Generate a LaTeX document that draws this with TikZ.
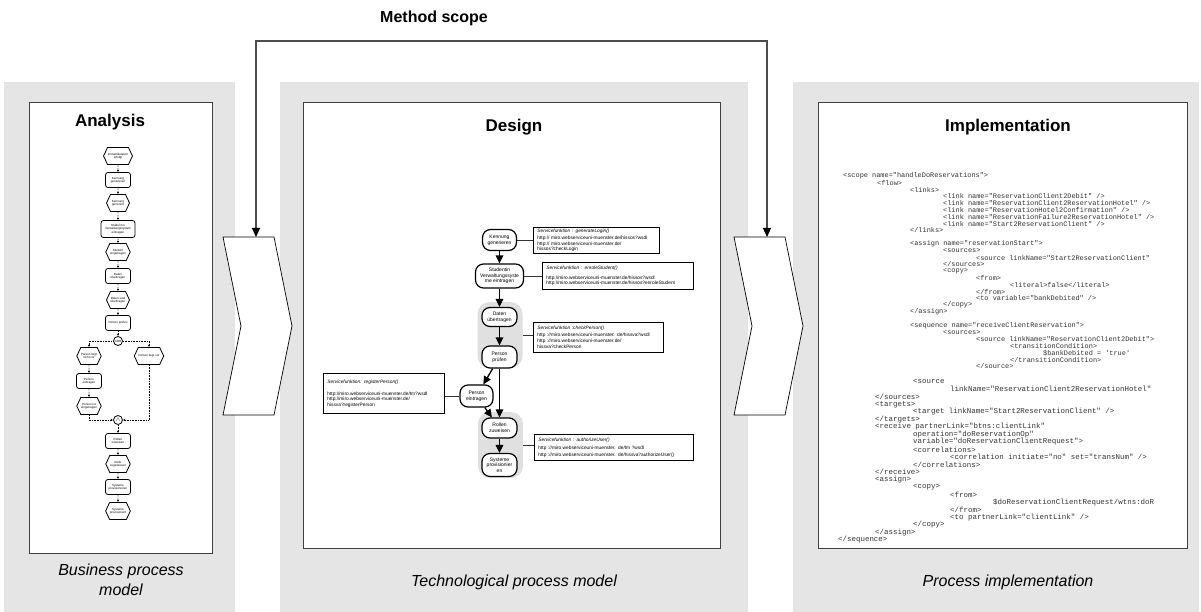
\documentclass[tikz,border=0pt]{standalone}
\usepackage{fontspec}
\setmainfont{Liberation Sans}
\setmonofont{Liberation Mono}
\usetikzlibrary{arrows.meta,shapes.symbols}
\tikzset{
  bgpanel/.style={fill=black!10},
  sheet/.style={fill=white, draw=black!75, line width=1pt},
  paneltitle/.style={font=\bfseries\fontsize{17}{20}\selectfont},
  panelcaption/.style={font=\itshape\fontsize{16}{20}\selectfont, align=center},
  chevron/.style={fill=white, draw=black, line width=0.7pt},
  scopearrow/.style={draw=black!70, line width=1.2pt,
    {Triangle[length=9pt,width=8pt,color=black]}-{Triangle[length=9pt,width=8pt,color=black]}},
  epcfn/.style={draw, line width=0.8pt, rounded corners=2.5pt, fill=white, minimum width=25pt,
    minimum height=15pt, inner sep=0.5pt, align=center, font=\fontsize{3}{3.4}\selectfont},
  epcev/.style={signal, signal to=east and west, signal pointer angle=130, draw, line width=0.8pt,
    fill=white, minimum width=23pt, minimum height=17pt, inner sep=0.3pt, align=center,
    font=\fontsize{3}{3.4}\selectfont},
  epcop/.style={circle, draw, line width=0.8pt, fill=white, minimum size=9pt, inner sep=0pt,
    font=\fontsize{3}{3}\selectfont},
  epcflow/.style={densely dotted, line width=0.6pt, -{Latex[length=2.2pt,width=2.2pt]}},
  task/.style={draw, line width=1.2pt, rounded corners=8pt, fill=white, align=center, inner sep=1pt,
    font=\fontsize{5}{5.6}\selectfont},
  taskgroup/.style={fill=black!12, rounded corners=12pt, minimum width=45pt, minimum height=66pt},
  svcbox/.style={draw, line width=0.9pt, fill=white, anchor=north west, align=left, inner xsep=4pt,
    inner ysep=2pt, font=\fontsize{4.8}{5.3}\selectfont},
  svclink/.style={draw=black!80, line width=0.8pt},
  flowarrow/.style={line width=1.3pt, -{Triangle[length=8pt,width=7.5pt]}},
  codeA/.style={anchor=west, inner sep=0pt, text=black!80, font=\fontsize{6.9}{7}\ttfamily},
  codeB/.style={anchor=west, inner sep=0pt, text=black!80, font=\fontsize{7.45}{7.5}\ttfamily},
}
\begin{document}
\begin{tikzpicture}[x=1pt,y=-1pt]
\useasboundingbox (0,0) rectangle (1201,612);

% background columns and sheets
\fill[bgpanel] (4,82) rectangle (235,612);
\fill[bgpanel] (280,82) rectangle (748,612);
\fill[bgpanel] (793,82) rectangle (1199,612);
\draw[sheet] (29,103) rectangle (212,553);
\draw[sheet] (303,103) rectangle (720,548);
\draw[sheet] (818,103) rectangle (1187,548);

% phase chevrons
\draw[chevron] (223,237) -- (274,237) -- (292,326) -- (274,415) -- (223,415) -- (241,326) -- cycle;
\draw[chevron] (734,237) -- (785,237) -- (803,326) -- (785,415) -- (734,415) -- (752,326) -- cycle;

% method scope bracket
\node[font=\bfseries\fontsize{16}{19}\selectfont] (scopelabel) at (434,18) {Method scope};
\coordinate (cL) at (256,237);
\coordinate (cR) at (767,237);
\coordinate (sL) at (256,41);
\coordinate (sR) at (767,41);
\draw[scopearrow] (cL) -- (sL) -- (sR) -- (cR);

% titles and captions
\node[paneltitle] (tA) at (110,122) {Analysis};
\node[paneltitle] (tD) at (514,127) {Design};
\node[paneltitle] (tI) at (1008,127) {Implementation};
\node[panelcaption] (cA) at (121,580) {Business process\\model};
\node[panelcaption] (cD) at (514,582) {Technological process model};
\node[panelcaption] (cI) at (1008,582) {Process implementation};

% ---------- business process (EPC) ----------
\node[epcev] (e1) at (118,156) {Immatrikulation\\erfolgt};
\node[epcfn] (f1) at (118,180) {Kennung\\generieren};
\node[epcev] (e2) at (118,203) {Kennung\\generiert};
\node[epcfn, minimum width=34pt, minimum height=17pt] (f2) at (118,229) {Student in\\Verwaltungssystem\\eintragen};
\node[epcev] (e3) at (118,252) {Student\\eingetragen};
\node[epcfn] (f3) at (118,276) {Daten\\übertragen};
\node[epcev] (e4) at (118,300) {Daten sind\\übertragen};
\node[epcfn] (f4) at (118,323) {Person prüfen};
\node[epcop] (xor) at (118,341) {XOR};
\node[epcev] (e5l) at (89,356) {Person liegt\\nicht vor};
\node[epcev] (e5r) at (149,356) {Person liegt vor};
\node[epcfn] (f5) at (89,381) {Person\\eintragen};
\node[epcev] (e6) at (89,406) {Person ist\\eingetragen};
\node[epcop, font=\fontsize{6}{6}\selectfont] (and) at (118,420) {$\wedge$};
\node[epcfn] (f6) at (118,441) {Rollen\\zuweisen};
\node[epcev] (e7) at (118,464) {Rolle\\zugewiesen};
\node[epcfn] (f7) at (118,487) {Systeme\\provisionieren};
\node[epcev] (e8) at (118,511) {Systeme\\provisioniert};

\draw[epcflow] (e1) -- (f1);
\draw[epcflow] (f1) -- (e2);
\draw[epcflow] (e2) -- (f2);
\draw[epcflow] (f2) -- (e3);
\draw[epcflow] (e3) -- (f3);
\draw[epcflow] (f3) -- (e4);
\draw[epcflow] (e4) -- (f4);
\draw[epcflow] (f4) -- (xor);
\draw[epcflow] (xor.west) -| (e5l.north);
\draw[epcflow] (xor.east) -| (e5r.north);
\draw[epcflow] (e5l) -- (f5);
\draw[epcflow] (f5) -- (e6);
\draw[epcflow] (e6.south) |- (and.west);
\draw[epcflow] (e5r.south) |- (and.east);
\draw[epcflow] (and) -- (f6);
\draw[epcflow] (f6) -- (e7);
\draw[epcflow] (e7) -- (f7);
\draw[epcflow] (f7) -- (e8);

% ---------- technological process ----------
\node[taskgroup] (g1) at (500,335) {};
\node[taskgroup] (g2) at (500.5,445) {};
\node[task, minimum width=34pt, minimum height=21pt] (kg) at (499.5,240) {Kennung\\generieren};
\node[task, minimum width=48pt, minimum height=24pt] (st) at (499.5,276) {Studentin\\Verwaltungssyste\\me eintragen};
\node[task, minimum width=35pt, minimum height=19pt] (du) at (499.5,317) {Daten\\übertragen};
\node[task, minimum width=35pt, minimum height=22pt] (pp) at (499.5,357) {Person\\prüfen};
\node[task, minimum width=33pt, minimum height=22pt] (pe) at (476.5,396) {Person\\eintragen};
\node[task, minimum width=35pt, minimum height=20pt] (rz) at (499.5,428) {Rollen\\zuweisen};
\node[task, minimum width=35pt, minimum height=23pt] (sp) at (499.5,465) {Systeme\\provisionier\\en};

\node[svcbox, minimum width=126pt, minimum height=25pt, text width=118pt] (b1) at (533,227)
  {\textit{Servicefunktion : generateLogin()}\\[1.5pt]
   http:// miro.webserviceuni-muenster.de/hissos?wsdl\\
   http:// miro.webserviceuni-muenster.de/\\
   hissos?checkLogin};
\node[svcbox, minimum width=151pt, minimum height=27pt, text width=143pt] (b2) at (542,262)
  {\textit{Servicefunktion : enroleStudent()}\\[4pt]
   http://miro.webserviceuni-muenster.de/hissos?wsdl\\
   http://miro.webserviceuni-muenster.de/hissos?enroleStudent};
\node[svcbox, minimum width=130pt, minimum height=30pt, text width=122pt, font=\fontsize{4.8}{6}\selectfont] (b3) at (533,322)
  {\textit{Servicefunktion :checkPerson()}\\[0.5pt]
   http ://miro.webserviceuni-muenster. de/hissva?wsdl\\
   http ://miro.webserviceuni-muenster.de/\\
   hissva?checkPerson};
\node[svcbox, minimum width=121pt, minimum height=40pt, text width=113pt] (b4) at (323,373)
  {\textit{Servicefunktion: registerPerson()}\\[7pt]
   http://miro.webserviceuni-muenster.de/tm?wsdl\\
   http://miro.webserviceuni-muenster.de/\\
   hissva?registerPerson};
\node[svcbox, minimum width=159pt, minimum height=26pt, text width=151pt, font=\fontsize{4.8}{6.5}\selectfont] (b5) at (534,434)
  {\textit{Servicefunktion : authorizeUser()}\\[2pt]
   http ://miro.webserviceuni-muenster. de/tm ?wsdl\\
   http ://miro.webserviceuni-muenster. de/hissva?authorizeUser()};

\draw[svclink] (kg.east) -- (kg.east -| b1.west);
\draw[svclink] (st.east) -- (st.east -| b2.west);
\draw[svclink] (g1.east) -- (g1.east -| b3.west);
\draw[svclink] (pe.west) -- (pe.west -| b4.east);
\draw[svclink] (g2.east) -- (g2.east -| b5.west);

\draw[flowarrow] (kg) -- (st);
\draw[flowarrow] (st) -- (du);
\draw[flowarrow] (du) -- (pp);
\draw[flowarrow] (pp) -- (pe);
\draw[flowarrow] (pp) -- (rz);
\draw[flowarrow] (pe) -- (rz);
\draw[flowarrow] (rz) -- (sp);

% ---------- process implementation (BPEL listing) ----------
\begin{scope}
\clip (818,150) rectangle (1153,560);
\foreach \k/\xx/\txt [count=\n] in {
  0/843/{<scope name="handleDoReservations">},
  1/877/{<flow>},
  2/910/{<links>},
  3/943/{<link name="ReservationClient2Debit" />},
  4/943/{<link name="ReservationClient2ReservationHotel" />},
  5/943/{<link name="ReservationHotel2Confirmation" />},
  6/943/{<link name="ReservationFailure2ReservationHotel" />},
  7/943/{<link name="Start2ReservationClient" />},
  8/910/{</links>},
  10/910/{<assign name="reservationStart">},
  11/943/{<sources>},
  12/976/{<source linkName="Start2ReservationClient" />},
  13/943/{</sources>},
  14/943/{<copy>},
  15/976/{<from>},
  16/1010/{<literal>false</literal>},
  17/976/{</from>},
  18/976/{<to variable="bankDebited" />},
  19/943/{</copy>},
  20/910/{</assign>},
  22/910/{<sequence name="receiveClientReservation">},
  23/943/{<sources>},
  24/976/{<source linkName="ReservationClient2Debit">},
  25/1010/{<transitionCondition>},
  26/1043/{\$bankDebited = 'true'},
  27/1010/{</transitionCondition>},
  28/976/{</source>}}
  \node[codeA] (ca\n) at (\xx,176+6.8*\k) {\txt};
\foreach \k/\xx/\txt [count=\n] in {
  0/913/{<source},
  1/950/{linkName="ReservationClient2ReservationHotel"},
  2/875/{</sources>},
  3/875/{<targets>},
  4/913/{<target linkName="Start2ReservationClient" />},
  5/875/{</targets>},
  6/875/{<receive partnerLink="btns:clientLink"},
  7/913/{operation="doReservationOp"},
  8/913/{variable="doReservationClientRequest">},
  9/913/{<correlations>},
  10/950/{<correlation initiate="no" set="transNum" />},
  11/913/{</correlations>},
  12/875/{</receive>},
  13/875/{<assign>},
  14/913/{<copy>},
  15/950/{<from>},
  16/993/{\$doReservationClientRequest/wtns:doReservation},
  17/950/{</from>},
  18/950/{<to partnerLink="clientLink" />},
  19/913/{</copy>},
  20/875/{</assign>},
  21/838/{</sequence>}}
  \node[codeB] (cb\n) at (\xx,381.7+7.54*\k) {\txt};
\end{scope}
\end{tikzpicture}
\end{document}
